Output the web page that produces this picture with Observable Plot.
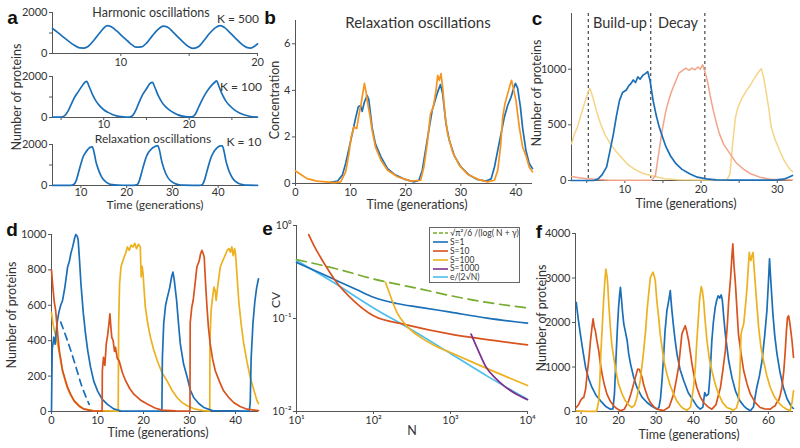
<!DOCTYPE html>
<html><head><meta charset="utf-8">
<script src="https://cdn.jsdelivr.net/npm/d3@7"></script>
<script src="https://cdn.jsdelivr.net/npm/@observablehq/plot@0.6"></script>
<style>
html,body{margin:0;padding:0;background:#fff;}
#root{position:relative;width:800px;height:448px;overflow:hidden;font-family:Lato,"Open Sans",sans-serif;color:#333;}
.t{position:absolute;white-space:nowrap;line-height:1;}
</style></head><body><div id="root"></div>
<script>
// ---------------- DATA ----------------
// Panel a: [time, proteins]
const aK500 = [[5,1220],[5.4,1020],[5.8,800],[6.2,590],[6.6,400],[7.0,270],[7.3,265],[7.6,340],[8.0,620],[8.4,960],[8.7,1200],[9.0,1360],[9.3,1300],[9.7,1100],[10.1,850],[10.5,610],[10.8,430],[11.1,310],[11.5,320],[11.9,520],[12.3,860],[12.7,1160],[13.1,1340],[13.4,1290],[13.8,1060],[14.2,790],[14.6,530],[15.0,320],[15.3,250],[15.7,340],[16.1,650],[16.5,990],[16.9,1250],[17.3,1360],[17.6,1260],[18.0,1010],[18.4,740],[18.8,480],[19.2,300],[19.5,265],[19.8,360],[20.0,470]];
const aK100 = [[4,20],[5,20],[5.4,80],[5.8,300],[6.2,650],[6.6,1000],[7.0,1250],[7.4,1500],[7.8,1720],[8.0,1760],[8.3,1500],[8.7,1100],[9.1,800],[9.5,580],[10.0,380],[10.5,250],[11.0,150],[11.5,80],[12.0,40],[12.5,20],[13.0,20],[13.4,100],[13.8,400],[14.2,800],[14.6,1150],[15.0,1400],[15.4,1650],[15.7,1710],[16.0,1450],[16.4,1050],[16.8,750],[17.2,540],[17.7,360],[18.2,230],[18.7,130],[19.2,70],[19.8,30],[20.3,30],[20.7,150],[21.1,500],[21.5,850],[21.9,1150],[22.3,1400],[22.7,1600],[23.0,1720],[23.2,1790],[23.5,1500],[23.9,1100],[24.3,800],[24.8,560],[25.3,370],[25.9,220],[26.5,120],[27.2,50],[28.0,20]];
const aK10 = [[3.8,10],[7.8,10],[8.5,60],[9.0,250],[9.5,650],[10.0,1050],[10.5,1400],[11.0,1600],[11.5,1750],[12.0,1860],[12.5,1880],[12.9,1600],[13.3,1150],[13.8,800],[14.3,520],[14.8,330],[15.4,190],[16.0,100],[16.8,40],[18,15],[21.5,10],[22.3,40],[22.8,250],[23.3,650],[23.8,1050],[24.3,1400],[24.8,1620],[25.5,1800],[26.2,1900],[26.8,1950],[27.2,1700],[27.6,1250],[28.1,850],[28.6,560],[29.1,360],[29.7,210],[30.4,110],[31.2,50],[32.5,15],[35.8,10],[36.5,40],[37.0,250],[37.5,650],[38.0,1050],[38.5,1400],[39.0,1620],[39.7,1820],[40.3,1920],[40.9,1940],[41.3,1650],[41.7,1200],[42.2,820],[42.7,540],[43.2,340],[43.8,200],[44.5,100],[45.3,45],[46.5,15],[48.6,10]];

// Panel b: [time, concentration]
const bBlue = [[6.1,0.04],[7.6,0.1],[8.5,0.36],[9.1,0.86],[9.7,1.5],[10.3,2.14],[10.9,2.8],[11.4,3.3],[11.8,3.35],[12.1,3.1],[12.5,3.5],[13.0,3.78],[13.3,3.6],[13.9,2.4],[14.5,1.7],[15.5,1.14],[16.7,0.64],[17.9,0.4],[19.7,0.19],[21.5,0.07],[22.4,0.14],[23.0,0.57],[23.6,1.43],[24.2,2.3],[24.8,3.14],[25.5,3.7],[25.9,4.0],[26.3,4.25],[26.7,3.86],[27.3,2.57],[27.9,1.86],[28.8,1.2],[30,0.71],[31.5,0.36],[33,0.17],[34.5,0.1],[35.5,0.2],[36.1,0.71],[36.7,1.43],[37.3,2.14],[37.9,2.86],[38.5,3.36],[39.1,3.7],[39.6,4.1],[39.9,4.3],[40.3,4.1],[40.8,3.3],[41.2,2.4],[41.8,1.43],[42.4,0.86],[43,0.64]];
const bOrange = [[0,0.54],[0.9,0.4],[2.1,0.21],[3.9,0.1],[7,0.04],[8.2,0.07],[9.1,0.5],[9.7,1.29],[10.1,2.0],[10.6,2.43],[11.1,2.36],[11.5,2.93],[11.9,3.43],[12.3,4.0],[12.5,4.3],[12.8,3.93],[13.0,3.57],[13.5,2.93],[13.9,2.29],[14.5,1.57],[15.5,1.0],[16.7,0.57],[18.5,0.29],[20.9,0.1],[22.7,0.14],[23.3,0.71],[23.9,1.71],[24.5,3.0],[25.0,3.29],[25.5,4.0],[25.8,4.64],[26.1,4.43],[26.4,4.72],[26.7,4.14],[27.1,3.0],[27.6,2.14],[28.5,1.36],[29.7,0.79],[31.2,0.4],[33,0.19],[34.8,0.07],[36.1,0.14],[36.7,0.57],[37.2,1.57],[37.6,2.86],[38.0,3.43],[38.5,3.86],[39.0,4.29],[39.2,4.43],[39.6,4.0],[40.0,3.57],[40.6,2.43],[41.2,1.57],[41.8,1.21],[42.4,0.71],[43,0.5]];

// Panel c: [time, proteins]
const cYellow = [[3,330],[3.4,420],[3.8,482],[4.2,580],[4.7,693],[5.1,780],[5.4,828],[5.6,790],[5.9,722],[6.3,620],[6.8,512],[7.4,410],[8.1,331],[8.8,265],[9.5,211],[10.3,150],[11.2,105],[12.3,65],[13.4,45],[15.2,15],[17,6],[20,5],[23.4,5],[23.8,60],[24.1,300],[24.5,560],[24.8,650],[25.3,730],[25.9,800],[26.5,860],[27.0,920],[27.5,970],[27.9,1005],[28.2,930],[28.5,813],[28.9,640],[29.2,482],[29.7,370],[30.3,271],[30.9,180],[31.6,105],[32,80]];
const cBlue = [[3,0],[6.0,2],[6.5,15],[7.0,50],[7.6,120],[8.0,250],[8.5,419],[8.9,580],[9.3,720],[9.7,790],[10.2,813],[10.5,850],[10.8,870],[11.1,903],[11.4,880],[11.7,930],[12.0,910],[12.4,948],[12.7,960],[13.0,978],[13.3,900],[13.7,722],[14.1,590],[14.5,482],[15.0,380],[15.4,301],[16.0,220],[16.7,151],[17.5,100],[18.5,60],[19.5,30],[20.7,15],[22,6],[26,3],[30,5],[31,15],[31.5,30],[32,45]];
const cSalmon = [[3,35],[4,25],[5,15],[6.5,8],[8,3],[13.5,3],[14.0,40],[14.5,271],[14.9,450],[15.4,632],[15.8,730],[16.2,813],[16.6,880],[17.1,964],[17.5,985],[18.0,1009],[18.4,990],[18.8,1010],[19.2,995],[19.6,1020],[19.9,1000],[20.2,1039],[20.5,980],[20.9,873],[21.2,760],[21.6,632],[22.0,520],[22.4,421],[23.0,320],[23.8,241],[24.6,160],[25.5,105],[26.5,60],[27.7,30],[29,12],[32,5]];
const cPhaseMarks = [5.2, 13.4, 20.5];

// Panel d: [time, proteins]
const dBlue = [[0,0],[0.15,350],[0.5,420],[0.8,380],[1.2,500],[1.6,560],[2.0,600],[2.4,627],[2.9,700],[3.5,816],[3.9,850],[4.2,892],[4.6,930],[5.1,987],[5.3,1000],[5.6,990],[5.8,968],[6.1,850],[6.4,722],[6.9,560],[7.4,438],[7.9,340],[8.5,249],[9.2,170],[10,117],[11,70],[12.1,42],[13.5,15],[15,4],[18,2],[24.0,2],[24.1,300],[24.4,500],[24.8,600],[25.2,646],[25.7,700],[26.1,760],[26.4,788],[26.7,740],[27.2,627],[27.6,500],[28,382],[28.7,270],[29.5,193],[30.2,120],[30.9,79],[32,45],[33.1,23],[35,5],[43.0,2],[43.2,50],[43.4,300],[43.8,500],[44.2,620],[44.6,700],[45,750]];
const dBlueDashed = [[2.0,505],[3.2,420],[4.9,287],[6.5,150],[8.2,40]];
const dRed = [[0,800],[0.3,700],[0.6,620],[0.9,571],[1.3,450],[1.7,344],[2.1,280],[2.4,230],[3.0,180],[3.5,136],[4.2,95],[4.9,60],[6,30],[7.1,13],[9,4],[11,2],[11.05,230],[11.3,306],[11.6,260],[11.9,380],[12.2,430],[12.5,500],[12.7,552],[12.9,480],[13.1,420],[13.4,400],[13.7,340],[13.9,363],[14.3,300],[14.7,287],[15.4,220],[16.1,174],[17,130],[17.9,98],[19.3,65],[20.8,42],[22.5,20],[24,8],[27,3],[30.1,2],[30.15,500],[30.5,590],[30.8,627],[31.2,720],[31.6,816],[32.1,850],[32.4,890],[32.7,911],[33.0,890],[33.2,873],[33.5,720],[33.8,590],[34.1,480],[34.5,382],[35.0,300],[35.6,230],[36.5,170],[37.4,117],[38.5,80],[39.6,51],[41,28],[42.5,13],[45,5]];
const dYellow = [[0,560],[0.3,500],[0.6,460],[1.0,420],[1.4,370],[1.7,330],[2.1,270],[2.5,220],[3.0,170],[3.5,130],[4.2,90],[5,60],[6,35],[7,15],[9,5],[14.5,2],[14.6,500],[14.8,720],[15.1,816],[15.5,850],[15.9,880],[16.2,900],[16.5,930],[16.9,910],[17.3,940],[17.7,930],[18.1,950],[18.5,920],[18.9,945],[19.3,930],[19.5,760],[19.7,820],[19.9,780],[20.1,700],[20.4,590],[20.9,500],[21.5,420],[22.2,350],[23,287],[24,220],[25.1,174],[26.2,120],[27.3,79],[28.4,50],[29.5,32],[31,15],[33,5],[34.4,2],[34.45,400],[34.7,571],[35.0,640],[35.3,703],[35.6,680],[35.8,627],[36.1,700],[36.4,760],[36.7,816],[37.2,850],[37.7,880],[38.2,911],[38.6,920],[38.9,900],[39.2,930],[39.5,880],[39.8,920],[40,892],[40.3,780],[40.7,627],[41.2,500],[41.8,382],[42.5,280],[43.2,193],[44,120],[44.7,60],[45,45]];

// Panel e: [N, CV]
const eGreen = [[10,0.43],[33.6,0.341],[100,0.266],[405,0.208],[1000,0.176],[3000,0.149],[10000,0.13]];
const eBlue = [[10,0.40],[20,0.31],[33.6,0.255],[60,0.205],[100,0.169],[200,0.145],[405,0.132],[1000,0.117],[3000,0.101],[10000,0.089]];
const eRed = [[14.4,0.80],[17,0.6],[20.5,0.456],[26,0.33],[32,0.255],[55,0.156],[100,0.107],[260,0.086],[1000,0.068],[2700,0.06],[10000,0.052]];
const eOrange = [[143,0.245],[160,0.19],[174,0.156],[203,0.115],[260,0.086],[405,0.063],[600,0.052],[1000,0.043],[2700,0.03],[10000,0.019]];
const ePurple = [[1850,0.068],[2200,0.049],[2900,0.03],[3800,0.023],[4900,0.019],[7300,0.0152],[10000,0.0134]];
const eLight = [[10,0.42],[30,0.245],[100,0.13],[300,0.077],[1000,0.042],[3000,0.024],[10000,0.0135]];
const eLegendLabels = ["\u221A\u03C0\u00B2/6 /(log( N + \u03B3)", "S=1", "S=10", "S=100", "S=1000", "e/(2\u221AN)"];

// Panel f: [time, proteins]
const fBlue = [[8.7,2450],[9.2,2100],[9.8,1740],[10.5,1350],[11.2,990],[12.0,740],[12.9,540],[14.0,360],[15.2,240],[16.5,120],[17.8,52],[18.5,60],[18.9,400],[19.4,1365],[19.7,1900],[20.0,2340],[20.3,2650],[20.5,2790],[20.8,2500],[21.1,2200],[21.4,1965],[21.8,1800],[22.3,1590],[22.7,1300],[23.2,1065],[24,780],[24.9,540],[26.2,330],[27.6,202],[29,110],[30.3,52],[30.8,100],[31.2,300],[31.6,700],[32.0,1215],[32.4,1800],[32.9,2265],[33.2,2400],[33.5,2550],[33.8,2715],[34.2,2300],[34.7,1890],[35.1,1600],[35.6,1290],[36.4,950],[37.4,690],[38.6,420],[40,240],[40.9,120],[41.8,52],[42.5,100],[43.0,427],[43.4,350],[44.0,390],[44.4,800],[44.9,1590],[45.3,2000],[45.8,2340],[46.2,2500],[46.6,2600],[47.0,2550],[47.4,2620],[47.7,2500],[48.1,2100],[48.5,1740],[49.0,1400],[49.4,1140],[50.3,750],[51.2,465],[52.3,250],[53.4,127],[54.3,60],[55.2,15],[56,100],[56.9,540],[57.6,800],[58.3,1140],[59.0,1700],[59.6,2265],[60.0,2900],[60.3,3430],[60.6,3000],[61.2,2190],[61.7,1700],[62.3,1290],[63.1,880],[64,540],[65,280],[66.3,90],[66.7,70]];
const fRed = [[8.7,90],[9.3,150],[9.8,240],[10.3,300],[10.7,315],[11.2,500],[11.6,840],[12.1,1200],[12.5,1590],[12.9,1890],[13.2,2080],[13.5,1900],[13.8,1815],[14.2,1600],[14.7,1365],[15.1,1100],[15.6,840],[16.2,600],[16.9,390],[17.8,230],[18.7,127],[19.6,60],[20.5,15],[21.5,50],[22.7,240],[23.3,400],[24.0,615],[24.6,800],[25.1,952],[25.6,940],[25.9,860],[26.3,765],[26.7,600],[27.2,465],[27.8,320],[28.5,202],[29.4,110],[30.3,52],[32,20],[33.5,100],[34.7,390],[35.4,700],[36.0,990],[36.5,1400],[36.9,1740],[37.4,1850],[37.8,1927],[38.2,1800],[38.7,1590],[39.2,1300],[39.6,1065],[40.2,780],[40.9,540],[41.8,330],[42.7,202],[43.8,110],[44.9,52],[46,150],[46.6,350],[47.2,540],[47.8,900],[48.5,1365],[49.0,1900],[49.4,2490],[49.9,3000],[50.3,3540],[50.5,3765],[50.8,3300],[51.2,2865],[51.6,2300],[52.0,1740],[52.7,1300],[53.4,915],[54.3,620],[55.2,390],[56.5,200],[57.8,90],[59,60],[60.5,52],[61.2,100],[61.8,127],[62.2,200],[62.7,240],[63.1,350],[63.6,540],[64.1,900],[64.5,1365],[64.8,1800],[65.1,2115],[65.4,2150],[65.7,2000],[66.0,1800],[66.3,1590],[66.7,1215]];
const fYellow = [[8.7,15],[10,10],[12,5],[14.0,5],[14.3,60],[14.7,240],[15.0,700],[15.3,1365],[15.7,2000],[16.0,2490],[16.3,2900],[16.6,3200],[16.9,3050],[17.1,2865],[17.4,2400],[17.8,1890],[18.2,1500],[18.7,1215],[19.3,900],[20.0,615],[20.9,400],[21.8,240],[22.7,150],[23.6,90],[24.3,150],[24.9,315],[25.8,700],[26.7,1365],[27.2,1800],[27.6,2265],[28.1,2700],[28.5,3015],[28.9,3080],[29.2,3130],[29.5,3050],[29.8,2940],[30.2,2500],[30.7,2115],[31.1,1750],[31.6,1440],[32.2,1100],[32.9,840],[33.8,580],[34.7,390],[35.6,230],[36.5,127],[37.4,60],[38.3,30],[39.2,100],[40.0,540],[40.5,1000],[40.9,1590],[41.3,2100],[41.6,2490],[41.9,2700],[42.1,2805],[42.4,2700],[42.7,2490],[43.1,2050],[43.6,1590],[44.2,1200],[44.9,915],[45.8,620],[46.7,390],[47.8,200],[48.9,90],[50.7,30],[51.5,80],[52,240],[52.4,900],[52.7,1740],[53.0,1850],[53.4,1965],[53.9,2400],[54.3,2790],[54.6,3200],[54.9,3575],[55.1,3450],[55.3,3390],[55.6,3500],[55.9,3575],[56.2,3200],[56.5,2865],[57.0,2300],[57.4,1890],[58.0,1450],[58.7,1140],[59.6,800],[60.5,540],[61.6,330],[62.7,202],[63.8,110],[64.9,52],[65.8,15],[66.3,200],[66.7,465]];

// ---------------- DRAWING ----------------
const root = document.getElementById("root");
const AX = "#555";
const C = {blue:"#1b6fb8", orange:"#f7941d", red:"#d9531e", yellow:"#edb120", salmon:"#f2a489", pale:"#f4d588", green:"#77ac30", purple:"#7e2f8e", light:"#4dbeee"};

function txt(x, y, s, {size=12, rot=0, weight="normal", family=null, color="#333"}={}) {
  const d = document.createElement("div");
  d.className = "t";
  d.textContent = s;
  d.style.left = x + "px"; d.style.top = y + "px";
  d.style.fontSize = size + "px"; d.style.fontWeight = weight; d.style.color = color;
  if (family) d.style.fontFamily = family;
  d.style.transform = `translate(-50%,-50%) rotate(${rot}deg)`;
  root.appendChild(d);
}

const P = d => d[0], V = d => d[1];
function ln(data, stroke, extra={}) { return Plot.line(data, {x:P, y:V, stroke, strokeWidth:1.7, ...extra}); }

function panel({left, top, width, height, ml, mr, mt, mb, x, y, xt, xl, yt, yl, xfmt, yfmt, xpad=2, yfont="11px", marks}) {
  const x0 = x.domain[0], y0 = y.domain[0];
  const svg = Plot.plot({
    width, height, marginLeft: ml, marginRight: mr, marginTop: mt, marginBottom: mb,
    x: {...x, label: null}, y: {...y, label: null},
    style: {fontFamily: "Lato, sans-serif", fontSize: "11px", color: "#333", background: "transparent", overflow: "visible"},
    marks: [
      Plot.ruleX([x0], {stroke: AX}),
      Plot.ruleY([y0], {stroke: AX}),
      Plot.axisX({ticks: xt, tickSize: 3, tickPadding: xpad, stroke: AX, tickFormat: xfmt || (d => xl.includes(d) ? String(d) : "")}),
      Plot.axisY({ticks: yt, tickSize: 3, tickPadding: 2, stroke: AX, fontSize: yfont, tickFormat: yfmt || (d => yl.includes(d) ? String(d) : "")}),
      ...marks
    ]
  });
  svg.style.position = "absolute"; svg.style.left = left + "px"; svg.style.top = top + "px";
  root.appendChild(svg);
}

// Panel a (three stacked sub-plots)
panel({left:0, top:0, width:265, height:72, ml:52, mr:8, mt:12, mb:19,
  x:{domain:[5,20]}, y:{domain:[0,2000]}, xt:[10,15,20], xl:[10,20], yt:[0,1000,2000], yl:[0,2000],
  marks:[ln(aK500, C.blue, {curve:"monotone-x"})]});
panel({left:0, top:60, width:265, height:72, ml:52, mr:8, mt:16, mb:15, xpad:0,
  x:{domain:[4,28]}, y:{domain:[0,2000]}, xt:[5,10,15,20,25], xl:[10,20], yt:[0,1000,2000], yl:[0,2000],
  marks:[ln(aK100, C.blue, {curve:"monotone-x"})]});
panel({left:0, top:130, width:265, height:80, ml:52, mr:8, mt:14, mb:25, xpad:0,
  x:{domain:[3.8,48.6]}, y:{domain:[0,2000]}, xt:[10,20,30,40], xl:[10,20,30,40], yt:[0,1000,2000], yl:[0,2000],
  marks:[ln(aK10, C.blue, {curve:"monotone-x"})]});

// Panel b
panel({left:240, top:0, width:300, height:215, ml:55, mr:8, mt:20, mb:32,
  x:{domain:[0,43]}, y:{domain:[0,7]}, xt:[0,10,20,30,40], xl:[0,10,20,30,40], yt:[0,2,4,6], yl:[0,2,4,6],
  marks:[ln(bBlue, C.blue), ln(bOrange, C.orange)]});

// Panel c
panel({left:520, top:0, width:280, height:215, ml:51, mr:8, mt:13, mb:35,
  x:{domain:[3,32]}, y:{domain:[0,1500]}, xt:[5,10,15,20,25,30], xl:[10,20,30], yt:[0,500,1000], yl:[0,500,1000],
  marks:[
    Plot.ruleX(cPhaseMarks, {stroke:"#222", strokeWidth:1, strokeDasharray:"3,3"}),
    ln(cYellow, C.pale, {strokeWidth:1.5}), ln(cSalmon, C.salmon, {strokeWidth:1.5}), ln(cBlue, C.blue)
  ]});

// Panel d
panel({left:0, top:220, width:265, height:228, ml:51, mr:7, mt:14, mb:37,
  x:{domain:[0,45]}, y:{domain:[0,1000]}, xt:[0,10,20,30,40], xl:[0,10,20,30,40], yt:[0,200,400,600,800,1000], yl:[0,200,400,600,800,1000],
  marks:[ln(dYellow, C.yellow), ln(dBlue, C.blue), ln(dBlueDashed, C.blue, {strokeDasharray:"7,5", curve:"monotone-x"}), ln(dRed, C.red)]});

// Panel e (log-log)
const sup = {"-":"\u207B","0":"\u2070","1":"\u00B9","2":"\u00B2","3":"\u00B3","4":"\u2074"};
const pow10 = d => "10" + String(Math.round(Math.log10(d))).split("").map(c => sup[c]).join("");
panel({left:265, top:215, width:270, height:233, ml:31, mr:8, mt:10, mb:37, yfont:"10.5px",
  x:{type:"log", domain:[10,10000]}, y:{type:"log", domain:[0.01,1]},
  xt:[10,100,1000,10000], yt:[0.01,0.1,1], xfmt:pow10, yfmt:pow10,
  marks:[
    ln(eLight, C.light, {curve:"monotone-x"}),
    ln(eGreen, C.green, {curve:"monotone-x", strokeDasharray:"10,6"}),
    ln(eBlue, C.blue, {curve:"monotone-x"}),
    ln(eRed, C.red, {curve:"monotone-x"}),
    ln(eOrange, C.yellow, {curve:"monotone-x"}),
    ln(ePurple, C.purple, {curve:"monotone-x"})
  ]});

// Panel f
panel({left:525, top:220, width:275, height:228, ml:50, mr:7, mt:13, mb:37,
  x:{domain:[8.5,66.7]}, y:{domain:[0,4000]}, xt:[10,20,30,40,50,60], xl:[10,20,30,40,50,60], yt:[0,1000,2000,3000,4000], yl:[0,1000,2000,3000,4000],
  marks:[ln(fBlue, C.blue), ln(fRed, C.red), ln(fYellow, C.yellow)]});

// Legend for panel e
(function(){
  const colors = [C.green, C.blue, C.red, C.yellow, C.purple, C.light];
  const box = document.createElement("div");
  Object.assign(box.style, {position:"absolute", left:"429px", top:"227px", width:"91px", height:"56px", border:"1px solid #666", background:"#fff", boxSizing:"border-box", padding:"1px 3px"});
  eLegendLabels.forEach((lab, i) => {
    const row = document.createElement("div");
    Object.assign(row.style, {display:"flex", alignItems:"center", height:"8.8px", fontSize:"8.5px", lineHeight:"1", whiteSpace:"nowrap", color:"#333"});
    const sw = document.createElementNS("http://www.w3.org/2000/svg", "svg");
    sw.setAttribute("width", "15"); sw.setAttribute("height", "6");
    sw.style.marginRight = "2px"; sw.style.flex = "none";
    const l = document.createElementNS("http://www.w3.org/2000/svg", "line");
    l.setAttribute("x1", 0); l.setAttribute("x2", 15); l.setAttribute("y1", 3); l.setAttribute("y2", 3);
    l.setAttribute("stroke", colors[i]); l.setAttribute("stroke-width", 1.6);
    if (i === 0) l.setAttribute("stroke-dasharray", "4,2");
    sw.appendChild(l);
    const s = document.createElement("span"); s.textContent = lab;
    row.appendChild(sw); row.appendChild(s);
    box.appendChild(row);
  });
  root.appendChild(box);
})();

// Text annotations
const LET = {size:19, weight:"bold", family:"'Liberation Sans', Arial, sans-serif", color:"#111"};
txt(12.5, 17, "a", LET); txt(270, 17, "b", LET); txt(537, 17.5, "c", LET);
txt(12, 229, "d", LET); txt(267.5, 227.5, "e", LET); txt(539, 231, "f", LET);

txt(151, 12.5, "Harmonic oscillations", {size:12.5});
txt(238, 19, "K = 500", {size:12});
txt(241, 87, "K = 100", {size:12});
txt(153, 138.5, "Relaxation oscillations", {size:12});
txt(244, 142, "K = 10", {size:12});
txt(17, 97, "Number of proteins", {size:12.5, rot:-90});
txt(155, 205, "Time (generations)", {size:12});

txt(418, 22, "Relaxation oscillations", {size:15});
txt(275, 100, "Concentration", {size:12.5, rot:-90});
txt(417, 205, "Time (generations)", {size:12.5});

txt(620, 23, "Build-up", {size:14.5});
txt(678, 23, "Decay", {size:14.5});
txt(537, 93, "Number of proteins", {size:12.5, rot:-90});
txt(686, 204, "Time (generations)", {size:12.5});

txt(12, 315, "Number of proteins", {size:12.5, rot:-90});
txt(158, 433, "Time (generations)", {size:12.5});

txt(276, 300, "CV", {size:12, rot:-90});
txt(412, 431, "N", {size:12.5});

txt(542, 318, "Number of proteins", {size:12.5, rot:-90});
txt(689, 435, "Time (generations)", {size:12.5});
</script></body></html>
